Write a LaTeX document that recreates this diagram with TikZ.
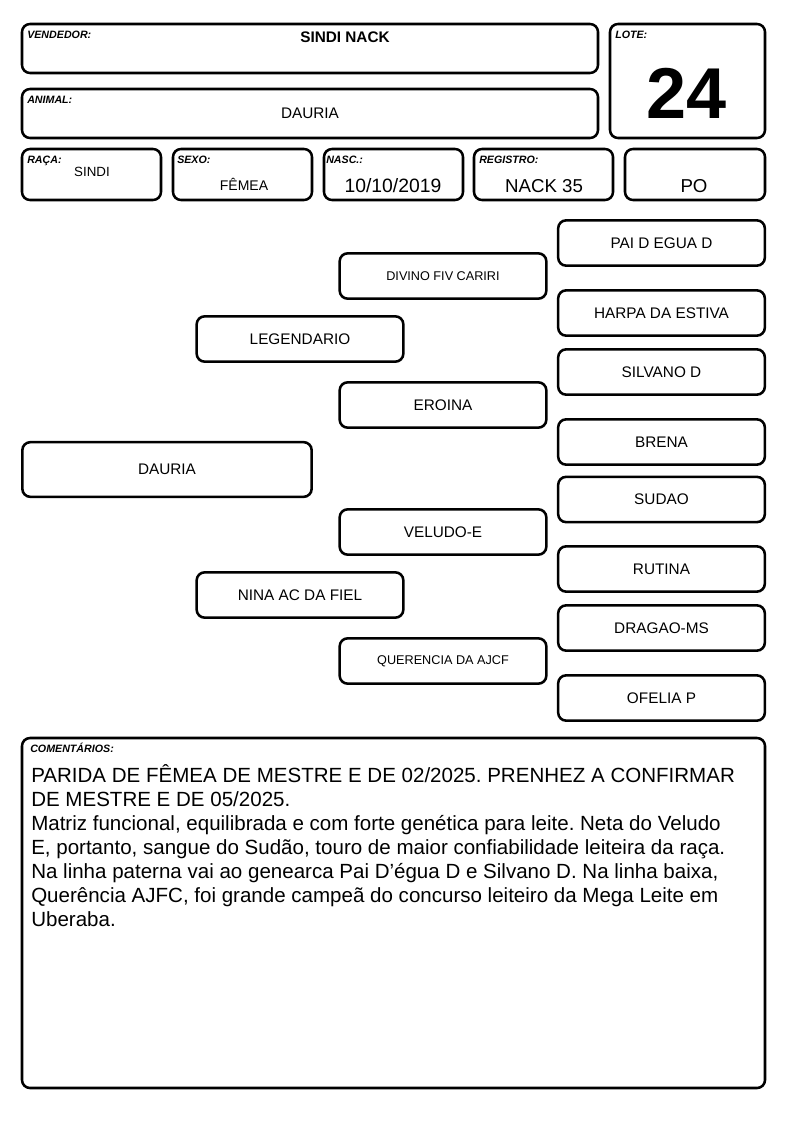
\documentclass[tikz,border=0pt]{standalone}
\usepackage{fontspec}
\setmainfont{Liberation Sans}
\frenchspacing

\begin{document}
\begin{tikzpicture}[x=0.75pt, y=-0.75pt,
  box/.style={draw, line width=1.9pt, rounded corners=6pt},
  ped/.style={box, minimum width=155pt, minimum height=34pt, inner sep=0pt,
    font=\fontsize{11.5}{13}\selectfont},
  tag/.style={anchor=base west, inner sep=0pt,
    font=\fontsize{8}{9}\selectfont\bfseries\itshape}]

            \useasboundingbox (0, 0) rectangle (794, 1123);

            % cabecalho
            \draw [box] (22, 24) rectangle (598, 73);
            \draw (27, 39) node [tag] (tvend) {VENDEDOR:};
            \draw (345, 37) node [font=\fontsize{11.5}{13}\selectfont\bfseries] (vendedor) {SINDI NACK};

            \draw [box] (22, 89) rectangle (598, 138);
            \draw (27, 104) node [tag] (tanimal) {ANIMAL:};
            \draw (310, 113) node [font=\fontsize{11.5}{13}\selectfont] (animal) {DAURIA};

            \draw [box] (610, 24) rectangle (765, 138);
            \draw (615, 39) node [tag] (tlote) {LOTE:};
            \draw (687, 93) node [font=\fontsize{54}{60}\selectfont\bfseries] (lote) {24};

            \draw [box] (22, 149) rectangle (161, 200);
            \draw (27, 164) node [tag] (traca) {RAÇA:};
            \draw (92, 172) node [font=\fontsize{10}{12}\selectfont] (raca) {SINDI};

            \draw [box] (173, 149) rectangle (312, 200);
            \draw (177, 164) node [tag] (tsexo) {SEXO:};
            \draw (244, 184) node [font=\fontsize{10.5}{12}\selectfont] (sexo) {FÊMEA};

            \draw [box] (324, 149) rectangle (463, 200);
            \draw (326, 164) node [tag] (tnasc) {NASC.:};
            \draw (393, 186) node [font=\fontsize{14.5}{16}\selectfont] (nasc) {10/10/2019};

            \draw [box] (474, 149) rectangle (613, 200);
            \draw (479, 164) node [tag] (treg) {REGISTRO:};
            \draw (544, 186) node [font=\fontsize{14}{16}\selectfont] (registro) {NACK 35};

            \draw [box] (625, 149) rectangle (765, 200);
            \draw (694, 186) node [font=\fontsize{14}{16}\selectfont] (po) {PO};

            % genealogia
            \node [ped, minimum width=217pt, minimum height=41pt] (dauria) at (167, 469.5) {DAURIA};

            \node [ped] (legendario) at (300, 339) {LEGENDARIO};
            \node [ped] (nina) at (300, 595) {NINA AC DA FIEL};

            \node [ped, font=\fontsize{9.5}{11}\selectfont] (divino) at (443, 276) {DIVINO FIV CARIRI};
            \node [ped] (eroina) at (443, 405) {EROINA};
            \node [ped] (veludo) at (443, 532) {VELUDO-E};
            \node [ped, font=\fontsize{9.5}{11}\selectfont] (querencia) at (443, 661) {QUERENCIA DA AJCF};

            \node [ped] (paidegua) at (661.5, 243) {PAI D EGUA D};
            \node [ped] (harpa) at (661.5, 313) {HARPA DA ESTIVA};
            \node [ped] (silvano) at (661.5, 372) {SILVANO D};
            \node [ped] (brena) at (661.5, 442) {BRENA};
            \node [ped] (sudao) at (661.5, 499.5) {SUDAO};
            \node [ped] (rutina) at (661.5, 569) {RUTINA};
            \node [ped] (dragao) at (661.5, 628) {DRAGAO-MS};
            \node [ped] (ofelia) at (661.5, 698) {OFELIA P};

            % comentarios
            \draw [box] (22, 738) rectangle (765, 1088);
            \draw (30, 752) node [tag] (tcoment) {COMENTÁRIOS:};
            \node [anchor=north west, align=left, inner sep=0pt,
                font=\fontsize{15.4}{18}\selectfont] (coment) at (31, 764)
                {PARIDA DE FÊMEA DE MESTRE E DE 02/2025. PRENHEZ A CONFIRMAR\\
                 DE MESTRE E DE 05/2025.\\
                 Matriz funcional, equilibrada e com forte genética para leite. Neta do Veludo\\
                 E, portanto, sangue do Sudão, touro de maior confiabilidade leiteira da raça.\\
                 Na linha paterna vai ao genearca Pai D’égua D e Silvano D. Na linha baixa,\\
                 Querência AJFC, foi grande campeã do concurso leiteiro da Mega Leite em\\
                 Uberaba.};

        \end{tikzpicture}
\end{document}
